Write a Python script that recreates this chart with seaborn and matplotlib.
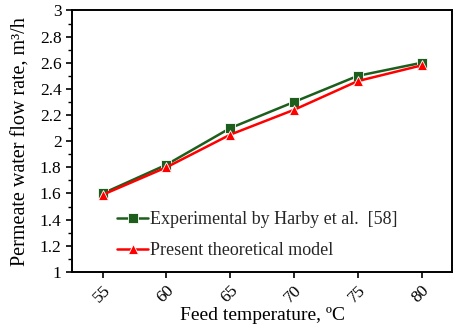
import numpy as np
import pandas as pd
import matplotlib
matplotlib.use('Agg')
import matplotlib.pyplot as plt
import seaborn as sns
from matplotlib.ticker import MultipleLocator, FuncFormatter

# Values
temps = [55, 60, 65, 70, 75, 80]
experimental = [1.60, 1.82, 2.10, 2.30, 2.50, 2.60]
theoretical = [1.59, 1.80, 2.05, 2.24, 2.46, 2.58]
series_names = ['Experimental by Harby et al.  [58]', 'Present theoretical model']

df = pd.DataFrame({
    'temp': temps * 2,
    'flow': experimental + theoretical,
    'series': [series_names[0]] * len(temps) + [series_names[1]] * len(temps),
})

sns.set_style('ticks')
plt.rcParams['font.family'] = ['Liberation Serif', 'DejaVu Serif']

fig = plt.figure(figsize=(4.57, 3.28), dpi=100)
ax = fig.add_axes([0.1575, 0.171, 0.832, 0.797])

sns.lineplot(data=df, x='temp', y='flow', hue='series', style='series',
             palette={series_names[0]: '#1d5e1d', series_names[1]: '#ff0000'},
             markers={series_names[0]: 's', series_names[1]: '^'},
             dashes=False, linewidth=1.8, markersize=7, markeredgewidth=0.6,
             ax=ax)

ax.set_xlim(52.6, 82.4)
ax.set_ylim(1, 3)
ax.set_xticks(temps)
ax.yaxis.set_major_locator(MultipleLocator(0.2))
ax.yaxis.set_minor_locator(MultipleLocator(0.1))
ax.yaxis.set_major_formatter(FuncFormatter(lambda v, p: f'{v:.1f}'.rstrip('0').rstrip('.')))
ax.tick_params(axis='both', which='major', direction='out', length=4, width=1.2,
               labelsize=12.5, color='black', labelcolor='black')
ax.tick_params(axis='y', which='minor', direction='out', length=3, width=1.0, color='black')
plt.setp(ax.get_xticklabels(), rotation=45, ha='right', rotation_mode='anchor')

for s in ax.spines.values():
    s.set_linewidth(1.4)
    s.set_color('black')

ax.set_xlabel('Feed temperature, ºC', fontsize=14, color='black', labelpad=1)
ax.set_ylabel('Permeate water flow rate, m³/h', fontsize=14.5, color='black', labelpad=7)

ax.legend(loc='lower left', bbox_to_anchor=(0.1, 0.02), frameon=False,
          fontsize=13, handlelength=1.7, handletextpad=0.1, labelspacing=0.8,
          borderaxespad=0)

fig.savefig('out.png', dpi=100)
